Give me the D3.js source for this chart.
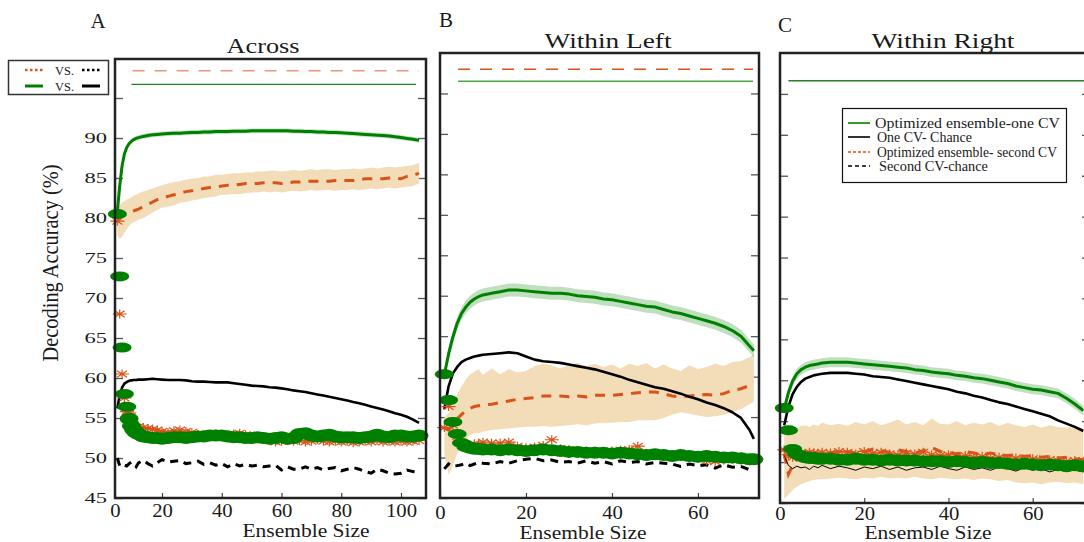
<!DOCTYPE html>
<html><head><meta charset="utf-8">
<script src="https://cdn.jsdelivr.net/npm/d3@7"></script>
<style>
body{margin:0;background:#fff}
svg{display:block}
text{font-family:"Liberation Serif","Times New Roman",serif;fill:#1a1a1a}
</style>
</head><body>
<svg id="chart" width="1084" height="542"></svg>
<script>
// ---------------- DATA ----------------
const panelLetters = ["A","B","C"];
const panelTitles = ["Across","Within Left","Within Right"];
const yTickValues = [45,50,55,60,65,70,75,80,85,90,95];
const yLabelValues = [45,50,55,60,65,70,75,80,85,90];
const xTicksA = [0,20,40,60,80,100];
const xTicksBC = [0,20,40,60];
const legendCLabels = ["Optimized ensemble-one CV","One CV- Chance","Optimized ensemble- second CV","Second CV-chance"];

// Panel A
const sizesA = [1,2,3,4,5,6,7,8,9,10,12,14,16,18,20,22,24,26,28,30,32,34,36,38,40,42,44,46,48,50,52,54,56,58,60,62,64,66,68,70,72,74,76,78,80,82,84,86,88,90,92,94,96,98,100,102,104,106];
const greenA = [80.8,84.0,86.5,88.0,88.8,89.3,89.6,89.8,89.95,90.05,90.2,90.3,90.4,90.45,90.5,90.55,90.6,90.6,90.65,90.7,90.7,90.75,90.75,90.8,90.8,90.8,90.85,90.85,90.85,90.9,90.9,90.9,90.9,90.9,90.9,90.9,90.85,90.85,90.8,90.8,90.75,90.75,90.7,90.7,90.65,90.6,90.55,90.5,90.45,90.4,90.35,90.3,90.25,90.15,90.05,89.95,89.85,89.7];
const greenHalfA = 0.3;
const orangeA = [79.8,80.0,80.2,80.3,80.5,80.6,80.8,80.9,81.0,81.1,81.4,81.7,82.0,82.3,82.5,82.7,82.9,83.1,83.3,83.4,83.5,83.7,83.8,83.9,84.0,84.1,84.1,84.2,84.3,84.3,84.3,84.4,84.4,84.4,84.3,84.4,84.5,84.5,84.6,84.6,84.6,84.6,84.6,84.7,84.7,84.7,84.7,84.8,84.9,84.9,84.9,84.9,85.0,85.0,84.9,85.2,85.3,85.6];
const orangeLoA = [77.8,77.4,77.6,78.2,78.6,79.0,79.3,79.5,79.6,79.8,80.0,80.3,80.7,81.0,81.3,81.4,81.6,81.9,82.0,82.2,82.3,82.5,82.6,82.7,82.9,82.9,83.0,83.0,83.1,83.2,83.2,83.3,83.2,83.3,83.2,83.3,83.4,83.3,83.4,83.5,83.4,83.5,83.5,83.4,83.5,83.5,83.6,83.5,83.6,83.7,83.6,83.7,83.8,83.7,83.8,83.9,84.0,84.3];
const orangeHiA = [81.4,81.6,81.9,82.1,82.3,82.4,82.6,82.8,82.9,83.1,83.3,83.5,83.7,83.9,84.1,84.3,84.5,84.6,84.8,84.9,85.0,85.2,85.2,85.4,85.4,85.5,85.6,85.6,85.7,85.7,85.8,85.8,85.9,85.9,85.8,85.9,86.0,85.9,86.0,86.1,86.0,86.1,86.1,86.0,86.1,86.1,86.2,86.1,86.2,86.3,86.2,86.3,86.4,86.3,86.4,86.5,86.6,86.9];
const blackA = [56.2,57.8,58.8,59.3,59.5,59.65,59.7,59.75,59.75,59.8,59.8,59.85,59.9,59.85,59.8,59.75,59.75,59.75,59.7,59.6,59.55,59.55,59.5,59.45,59.45,59.45,59.35,59.25,59.15,59.05,59.0,58.95,58.85,58.8,58.7,58.6,58.45,58.35,58.25,58.1,57.95,57.8,57.65,57.5,57.35,57.2,57.0,56.85,56.65,56.45,56.25,56.05,55.85,55.6,55.4,55.15,54.8,54.4];
const chanceA = [50.0,49.0,48.9,49.1,49.0,49.3,49.5,49.2,48.9,49.4,49.7,49.3,49.0,49.4,49.8,49.5,49.6,49.7,49.3,49.4,49.6,49.2,49.4,49.1,49.3,48.9,49.3,49.0,49.2,49.0,49.1,48.9,49.0,49.1,48.5,48.9,48.6,48.6,48.9,48.6,48.8,48.5,48.7,48.8,48.4,48.6,48.8,48.6,48.3,48.1,48.6,48.4,48.1,48.0,48.1,48.5,48.3,48.2];
const dotsA = [80.5,72.7,63.8,58.0,56.4,54.9,54.0,53.5,53.2,53.0,52.7,52.6,52.5,52.5,52.4,52.5,52.6,52.6,52.5,52.6,52.7,52.7,52.8,52.8,52.8,52.7,52.6,52.6,52.5,52.5,52.6,52.5,52.4,52.5,52.6,52.4,52.5,53.0,53.1,52.8,52.7,52.8,52.9,52.7,52.6,52.6,52.6,52.5,52.6,52.7,52.9,52.7,52.6,52.8,52.8,52.7,52.7,52.8];
const starsA = [79.6,68.0,60.5,57.5,55.8,55.6,54.6,54.0,53.8,53.9,53.8,53.7,53.6,53.5,53.3,53.2,53.4,53.5,53.3,53.2,53.0,52.9,52.9,53.0,52.8,52.9,53.0,53.1,52.9,52.6,52.4,52.3,52.2,52.0,52.1,52.2,52.1,52.2,52.0,52.1,52.3,52.1,52.0,52.1,52.0,52.1,51.9,52.0,52.1,52.0,52.2,52.0,52.1,52.0,52.1,52.0,52.1,52.2];
const sigOrangeA = [7.5,106,98.4];   // start size, end size, level
const sigGreenA = [7,105,96.7];

// Panel B
const sizesB = [1,2,3,4,5,6,7,8,9,10,12,14,16,18,20,22,24,26,28,30,32,34,36,38,40,42,44,46,48,50,52,54,56,58,60,62,64,66,68,70,72,73];
const greenB = [60.2,62.8,64.9,66.6,67.8,68.6,69.2,69.6,69.9,70.1,70.3,70.5,70.7,70.7,70.6,70.5,70.4,70.3,70.3,70.2,70.0,69.9,69.8,69.6,69.5,69.3,69.1,68.9,68.7,68.6,68.3,68.0,67.8,67.5,67.2,66.9,66.6,66.2,65.7,65.0,63.8,63.2];
const greenHalfB = 0.8;
const orangeB = [53.6,53.4,54.0,54.8,55.3,55.8,56.1,56.3,56.4,56.5,56.6,56.8,57.0,57.2,57.3,57.4,57.6,57.6,57.6,57.5,57.6,57.5,57.7,57.7,57.7,57.8,57.9,58.0,58.1,58.1,57.9,57.6,57.5,57.6,57.7,57.8,57.7,57.9,58.3,58.5,58.9,59.3];
const orangeLoB = [50.5,47.9,49.0,50.5,51.5,52.2,52.8,53.0,53.0,53.2,53.4,53.5,53.6,53.7,53.8,53.8,53.9,53.8,53.9,54.0,54.1,54.0,54.2,54.3,54.3,54.4,54.4,54.6,54.6,54.6,54.9,55.3,55.6,55.4,55.2,55.0,55.1,55.3,55.6,56.0,56.6,56.9];
const orangeHiB = [55.0,55.5,56.5,57.8,58.8,59.6,60.3,60.6,60.9,60.2,61.0,60.3,60.9,60.5,60.7,61.3,61.6,61.4,61.0,61.4,61.7,61.3,61.6,61.2,61.5,61.0,61.6,61.3,61.7,61.0,61.5,61.0,60.7,61.4,60.9,61.2,61.6,61.3,61.8,61.9,62.4,62.8];
const blackB = [56.0,58.8,60.4,61.2,61.8,62.1,62.3,62.5,62.6,62.7,62.8,62.9,63.0,62.9,62.5,62.1,61.9,61.8,61.7,61.5,61.3,61.1,60.9,60.6,60.3,60.0,59.6,59.3,59.0,58.7,58.5,58.2,57.9,57.5,57.2,56.8,56.5,56.1,55.6,54.9,53.4,52.3];
const chanceB = [48.6,49.2,48.9,49.0,49.1,49.3,49.0,49.2,49.4,49.3,49.2,49.5,49.3,49.6,49.8,49.9,49.6,49.7,49.4,49.5,49.3,49.6,49.3,49.5,49.2,49.6,49.4,49.5,49.2,49.4,49.3,49.2,48.9,49.2,49.0,49.1,48.7,49.1,48.8,48.9,48.5,48.7];
const dotsB = [60.3,57.1,54.4,52.9,51.8,51.4,51.2,51.1,51.1,51.0,51.0,50.9,51.0,50.9,50.8,50.9,51.0,50.9,50.8,50.7,50.7,50.6,50.6,50.6,50.5,50.6,50.5,50.4,50.3,50.4,50.3,50.2,50.3,50.2,50.1,50.2,50.1,50.0,50.0,49.9,49.8,49.8];
const starsB = [53.7,56.3,54.0,52.6,51.8,51.6,51.5,51.7,51.6,51.9,51.8,51.8,51.9,51.4,51.2,51.3,51.5,52.2,51.1,51.0,50.9,50.8,50.8,50.7,50.8,50.9,51.0,51.4,50.5,50.4,50.2,50.1,50.2,50.0,49.9,49.6,49.5,49.7,49.8,49.7,49.6,49.7];
const sigOrangeB = [4.2,72.8,98.0];
const sigGreenB = [4.2,72.8,96.5];

// Panel C
const sizesC = [1,2,3,4,5,6,7,8,9,10,12,14,16,18,20,22,24,26,28,30,32,34,36,38,40,42,44,46,48,50,52,54,56,58,60,62,64,66,68,70,72];
const greenC = [56.5,58.5,59.9,60.8,61.3,61.6,61.8,61.9,62.0,62.1,62.2,62.2,62.2,62.1,62.0,61.9,61.8,61.7,61.6,61.5,61.3,61.2,61.0,60.9,60.8,60.6,60.5,60.3,60.2,60.0,59.8,59.6,59.3,59.1,58.9,58.8,58.6,58.4,57.8,57.1,56.3];
const greenHalfC = 0.6;
const orangeC = [51.0,48.5,49.6,50.3,50.6,50.8,50.9,50.7,50.9,51.0,51.2,50.9,51.3,51.1,51.2,51.6,51.4,51.2,51.5,51.3,51.1,51.4,51.8,51.3,51.2,51.0,51.3,51.1,50.9,51.1,50.9,50.8,50.9,50.7,50.8,50.6,50.7,50.5,50.6,50.4,50.3];
const orangeLoC = [45.5,46.0,46.6,47.0,47.3,47.5,47.7,47.8,47.9,47.9,48.0,48.1,48.0,47.9,48.1,48.0,48.2,48.0,48.1,48.0,48.2,48.0,47.9,48.1,48.0,47.9,48.0,47.8,48.0,47.9,47.7,47.8,47.5,47.4,47.5,47.3,47.5,47.6,47.4,47.5,47.3];
const orangeHiC = [53.5,53.8,54.0,54.2,54.4,54.5,54.3,54.6,54.4,54.8,54.5,54.7,54.4,54.9,54.6,55.0,54.5,54.8,55.2,54.6,54.9,54.5,55.3,54.7,54.6,55.0,54.5,54.8,54.6,54.9,54.4,54.8,54.5,54.3,54.6,54.2,54.5,54.3,54.2,54.4,54.1];
const blackC = [54.5,56.8,58.3,59.2,59.8,60.2,60.4,60.6,60.7,60.8,60.9,60.9,60.9,60.8,60.7,60.5,60.4,60.3,60.1,59.9,59.7,59.5,59.3,59.1,58.9,58.6,58.4,58.1,57.9,57.6,57.3,57.1,56.8,56.5,56.2,55.9,55.6,55.1,54.7,54.3,53.8];
const chanceC = [50.8,49.6,49.2,49.5,49.3,49.4,49.1,49.5,49.3,49.6,49.2,49.5,49.3,49.0,49.4,49.2,49.5,49.1,49.4,49.0,49.3,49.4,49.1,49.5,49.2,49.0,49.4,49.1,49.3,49.0,49.4,49.2,48.9,49.3,49.0,49.2,48.8,49.1,48.9,49.0,48.8];
const dotsC = [56.6,53.9,51.6,51.0,50.7,50.6,50.5,50.5,50.4,50.4,50.4,50.3,50.3,50.4,50.3,50.3,50.2,50.3,50.2,50.2,50.2,50.1,50.1,50.1,50.0,50.1,50.0,49.9,50.0,49.9,49.9,49.8,49.7,49.8,49.7,49.6,49.7,49.6,49.5,49.6,49.5];
const starsC = [51.5,50.9,50.6,50.9,51.1,51.0,51.2,51.1,51.0,51.2,51.1,51.3,51.2,51.0,51.3,51.1,51.2,51.0,50.9,51.1,51.0,51.2,50.9,50.8,50.9,50.7,50.8,50.6,50.7,50.5,50.6,50.4,50.5,50.3,50.4,50.2,50.3,50.2,50.1,50.2,50.1];
const sigGreenC = [2,73.6,96.6];

// ---------------- DRAW ----------------
const GREEN = "#008000", ORANGE = "#D95319", WHEAT = "#f3dcb8", BLACK = "#000";
const svg = d3.select("#chart");

const panels = [
  {box:[115,59,426,498], yR:[498,58], xDom:[0,20,100,108], xRng:[115,162,401,425], sizes:sizesA,
   green:greenA, gHalf:greenHalfA, black:blackA, orange:orangeA, lo:orangeLoA, hi:orangeHiA, chance:chanceA, chanceThin:false,
   dots:dotsA, stars:starsA, sigO:sigOrangeA, sigG:sigGreenA, sigOColor:"#e9967a", sigGColor:"#1b8a1b",
   yLab:true, xTicks:xTicksA, pad:6, letter:[98,28], title:[263,53,73], xTitle:[306,537,127]},
  {box:[440,53,759,498], yR:[498,53], xDom:[0,74.2], xRng:[440,759], sizes:sizesB,
   green:greenB, gHalf:greenHalfB, black:blackB, orange:orangeB, lo:orangeLoB, hi:orangeHiB, chance:chanceB, chanceThin:false,
   dots:dotsB, stars:starsB, sigO:sigOrangeB, sigG:sigGreenB, sigOColor:ORANGE, sigGColor:"#4aa84a",
   yLab:false, xTicks:xTicksBC, pad:8, letter:[446,27], title:[608,48,127], xTitle:[583,539,127]},
  {box:[780,53,1090,503], yR:[503,53], xDom:[0,73.6], xRng:[780,1090], sizes:sizesC,
   green:greenC, gHalf:greenHalfC, black:blackC, orange:orangeC, lo:orangeLoC, hi:orangeHiC, chance:chanceC, chanceThin:true,
   dots:dotsC, stars:starsC, sigO:null, sigG:sigGreenC, sigOColor:ORANGE, sigGColor:"#2a7f2a",
   yLab:false, xTicks:xTicksBC, pad:4, letter:[785,32], title:[943,48,143], xTitle:[928,539,127]}
];

function fitText(g, txt, x, y, size, width, anchor){
  const t = g.append("text").attr("x",x).attr("y",y)
    .attr("text-anchor", anchor||"middle").attr("font-size", size).text(txt);
  if (width) t.attr("textLength", width).attr("lengthAdjust","spacingAndGlyphs");
  return t;
}

const starPath = "M-7,0H7M0,-4.5V4.5M-5,-3.3L5,3.3M-5,3.3L5,-3.3";

panels.forEach((p, pi) => {
  const g = svg.append("g");
  const x = d3.scaleLinear().domain(p.xDom).range(p.xRng);
  const y = d3.scaleLinear().domain([45,100]).range(p.yR);
  const rows = p.sizes.map((s,i)=>({s, g:p.green[i], b:p.black[i], o:p.orange[i], lo:p.lo[i], hi:p.hi[i], c:p.chance[i], d:p.dots[i], a:p.stars[i]}));

  // axes (inward ticks)
  const yl = g.append("g").attr("transform",`translate(${p.box[0]},0)`)
    .call(d3.axisLeft(y).tickValues(yTickValues).tickSize(-8).tickPadding(8)
      .tickFormat(v => (p.yLab && yLabelValues.includes(v)) ? d3.format("d")(v) : ""));
  yl.select(".domain").remove();
  yl.selectAll("line").attr("stroke","#555").attr("stroke-width",1.3);
  yl.selectAll("text").attr("x",null).attr("font-size",15).attr("font-family","Liberation Serif")
    .attr("fill","#222").attr("transform","translate(-8,0) scale(1.5,1)");

  const yr = g.append("g").attr("transform",`translate(${p.box[2]},0)`)
    .call(d3.axisRight(y).tickValues(yTickValues).tickSize(-8).tickFormat(""));
  yr.select(".domain").remove();
  yr.selectAll("line").attr("stroke","#555").attr("stroke-width",1.3);

  const xb = g.append("g").attr("transform",`translate(0,${p.box[3]})`)
    .call(d3.axisBottom(x).tickValues(p.xTicks).tickSize(-5).tickPadding(p.pad).tickFormat(d3.format("d")));
  xb.select(".domain").remove();
  xb.selectAll("line").attr("stroke","#444").attr("stroke-width",1.2);
  xb.selectAll("text").attr("font-size",18).attr("font-family","Liberation Serif").attr("fill","#222")
    .attr("x",0).style("transform","scaleX(1.15)");

  // bands
  g.append("path").datum(rows).attr("fill",WHEAT)
    .attr("d", d3.area().x(d=>x(d.s)).y0(d=>y(d.lo)).y1(d=>y(d.hi)));
  g.append("path").datum(rows).attr("fill",GREEN).attr("fill-opacity",0.25)
    .attr("d", d3.area().x(d=>x(d.s)).y0(d=>y(d.g-p.gHalf)).y1(d=>y(d.g+p.gHalf)));

  // lines
  const line = key => d3.line().x(d=>x(d.s)).y(d=>y(d[key]));
  g.append("path").datum(rows).attr("fill","none").attr("stroke",ORANGE).attr("stroke-width",3)
    .attr("stroke-dasharray","10,8").attr("d", line("o"));
  g.append("path").datum(rows).attr("fill","none").attr("stroke",BLACK).attr("stroke-width",2.6)
    .attr("stroke-linejoin","round").attr("d", line("b"));
  g.append("path").datum(rows).attr("fill","none").attr("stroke",GREEN).attr("stroke-width",3)
    .attr("stroke-linejoin","round").attr("d", line("g"));
  if (p.chanceThin) {
    g.append("path").datum(rows).attr("fill","none").attr("stroke",BLACK).attr("stroke-width",1)
      .attr("d", line("c"));
  } else {
    g.append("path").datum(rows).attr("fill","none").attr("stroke",BLACK).attr("stroke-width",3)
      .attr("stroke-dasharray","8,6").attr("d", line("c"));
  }

  // asterisks and dots
  g.append("g").selectAll("path").data(rows).join("path")
    .attr("transform", d=>`translate(${x(d.s)},${y(d.a)})`).attr("d", starPath)
    .attr("fill","none").attr("stroke",ORANGE).attr("stroke-width",1.2);
  g.append("g").selectAll("ellipse").data(rows).join("ellipse")
    .attr("cx", d=>x(d.s)).attr("cy", d=>y(d.d)).attr("rx",9.5).attr("ry",(d,i)=> i < 5 ? 5 : 6).attr("fill",GREEN);

  // significance lines
  if (p.sigO) g.append("line").attr("x1",x(p.sigO[0])).attr("x2",x(p.sigO[1]))
      .attr("y1",y(p.sigO[2])).attr("y2",y(p.sigO[2]))
      .attr("stroke",p.sigOColor).attr("stroke-width",1.5).attr("stroke-dasharray","12,10");
  g.append("line").attr("x1",x(p.sigG[0])).attr("x2",x(p.sigG[1]))
      .attr("y1",y(p.sigG[2])).attr("y2",y(p.sigG[2]))
      .attr("stroke",p.sigGColor).attr("stroke-width",1.4);

  // box
  g.append("rect").attr("x",p.box[0]).attr("y",p.box[1]).attr("width",p.box[2]-p.box[0]).attr("height",p.box[3]-p.box[1])
    .attr("fill","none").attr("stroke","#222").attr("stroke-width",2.5);

  // texts
  fitText(g, panelLetters[pi], p.letter[0], p.letter[1], 21, null);
  fitText(g, panelTitles[pi], p.title[0], p.title[1], 21, p.title[2]);
  fitText(g, "Ensemble Size", p.xTitle[0], p.xTitle[1], 18, p.xTitle[2]);
});

// y-axis title
svg.append("text").attr("transform","translate(58,263) rotate(-90) scale(1,1.2)")
  .attr("text-anchor","middle").attr("font-size",19)
  .attr("textLength",197).attr("lengthAdjust","spacingAndGlyphs").text("Decoding Accuracy (%)");

// Legend A
const lgA = svg.append("g");
lgA.append("rect").attr("x",8.5).attr("y",60.5).attr("width",100).attr("height",34)
  .attr("fill","#fff").attr("stroke","#333").attr("stroke-width",1.5);
lgA.append("line").attr("x1",25).attr("x2",43).attr("y1",70).attr("y2",70).attr("stroke",ORANGE).attr("stroke-width",2.5).attr("stroke-dasharray","2.5,2.5");
lgA.append("line").attr("x1",82).attr("x2",100).attr("y1",70).attr("y2",70).attr("stroke",BLACK).attr("stroke-width",2.5).attr("stroke-dasharray","2.5,2.5");
lgA.append("line").attr("x1",25).attr("x2",43).attr("y1",86).attr("y2",86).attr("stroke",GREEN).attr("stroke-width",3);
lgA.append("line").attr("x1",82).attr("x2",100).attr("y1",86).attr("y2",86).attr("stroke",BLACK).attr("stroke-width",3);
fitText(lgA,"VS.",55,74.5,12,19,"start");
fitText(lgA,"VS.",55,90.5,12,19,"start");

// Legend C
const lgC = svg.append("g");
lgC.append("rect").attr("x",842.5).attr("y",108.5).attr("width",224).attr("height",74)
  .attr("fill","#fff").attr("stroke","#111").attr("stroke-width",1.2);
const legRows = [
  {y:123, color:GREEN, dash:null, tx:875, w:185},
  {y:137, color:BLACK, dash:null, tx:877, w:95},
  {y:152, color:ORANGE, dash:"3,2", tx:877, w:180},
  {y:166, color:BLACK, dash:"4,3", tx:879, w:109}
];
legRows.forEach((r,i)=>{
  lgC.append("line").attr("x1",848).attr("x2",870).attr("y1",r.y).attr("y2",r.y)
    .attr("stroke",r.color).attr("stroke-width",1.6).attr("stroke-dasharray",r.dash);
  fitText(lgC, legendCLabels[i], r.tx, r.y+5, 14, r.w, "start");
});
</script>
</body></html>
